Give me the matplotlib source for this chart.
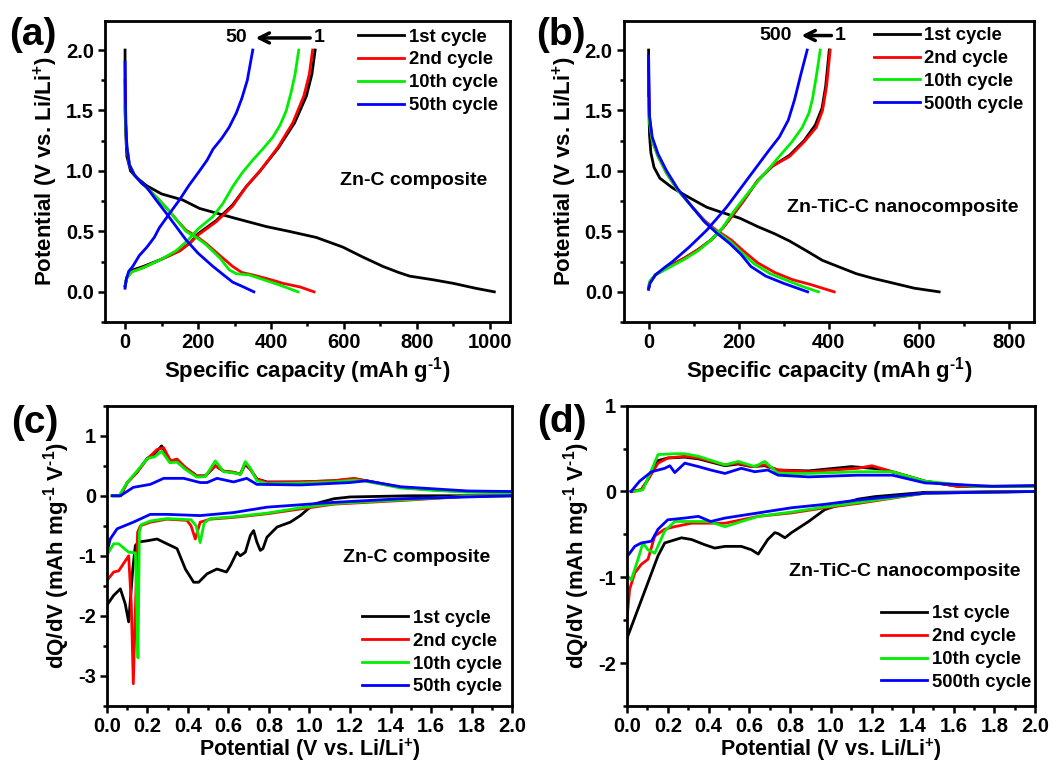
import matplotlib
matplotlib.use('Agg')
import matplotlib.pyplot as plt
from matplotlib.ticker import MultipleLocator

plt.rcParams['font.family'] = ['Liberation Sans', 'DejaVu Sans']
plt.rcParams['font.weight'] = 'bold'
plt.rcParams['mathtext.fontset'] = 'custom'
plt.rcParams['mathtext.rm'] = 'Liberation Sans:bold'
plt.rcParams['mathtext.bf'] = 'Liberation Sans:bold'
plt.rcParams['mathtext.default'] = 'bf'
plt.rcParams['axes.unicode_minus'] = False

labels_a = ['1st cycle', '2nd cycle', '10th cycle', '50th cycle']
labels_b = ['1st cycle', '2nd cycle', '10th cycle', '500th cycle']
colors = ['black', '#ff0000', '#00ee00', '#0000ff']

# (a) Zn-C composite, capacity (mAh/g) vs potential (V)
a1_dis = [(0, 2.0), (0, 1.5), (2, 1.3), (5, 1.12), (15, 1.0), (30, 0.95), (58, 0.88), (100, 0.81),
          (158, 0.76), (204, 0.69), (300, 0.61), (387, 0.54), (450, 0.5), (524, 0.45), (597, 0.37),
          (650, 0.29), (707, 0.21), (750, 0.16), (780, 0.13), (844, 0.10), (900, 0.07), (960, 0.03), (1012, 0.0)]
a1_chg = [(0, 0.05), (5, 0.12), (20, 0.18), (50, 0.21), (100, 0.27), (150, 0.34), (180, 0.41), (200, 0.48),
          (250, 0.59), (295, 0.72), (332, 0.87), (370, 1.0), (420, 1.19), (465, 1.4), (497, 1.62), (512, 1.8), (521, 2.0)]
a2_dis = [(0, 1.75), (2, 1.4), (5, 1.2), (12, 1.05), (25, 0.97), (45, 0.9), (60, 0.86), (90, 0.77), (115, 0.69),
          (140, 0.6), (167, 0.51), (200, 0.45), (222, 0.40), (260, 0.3), (295, 0.21), (320, 0.16), (350, 0.14),
          (400, 0.1), (433, 0.07), (480, 0.04), (518, 0.0)]
a2_chg = [(0, 0.05), (5, 0.12), (20, 0.17), (50, 0.2), (100, 0.27), (150, 0.34), (180, 0.41), (200, 0.47),
          (250, 0.58), (295, 0.71), (332, 0.87), (370, 1.0), (420, 1.2), (460, 1.4), (490, 1.62), (505, 1.8), (514, 2.0)]
a3_dis = [(0, 1.55), (2, 1.35), (5, 1.2), (12, 1.05), (25, 0.97), (45, 0.9), (60, 0.86), (90, 0.77), (115, 0.69),
          (140, 0.6), (167, 0.5), (200, 0.44), (222, 0.39), (260, 0.28), (286, 0.18), (305, 0.15), (340, 0.14),
          (380, 0.1), (420, 0.06), (474, 0.0)]
a3_chg = [(0, 0.04), (3, 0.1), (15, 0.16), (50, 0.2), (100, 0.27), (140, 0.34), (170, 0.42), (200, 0.52),
          (240, 0.62), (268, 0.73), (295, 0.87), (320, 0.98), (350, 1.09), (380, 1.19), (405, 1.28), (425, 1.38),
          (442, 1.5), (455, 1.65), (466, 1.8), (476, 2.0)]
a4_dis = [(0, 1.9), (2, 1.4), (5, 1.2), (12, 1.05), (25, 0.97), (45, 0.9), (58, 0.87), (85, 0.76), (113, 0.65),
          (140, 0.54), (167, 0.43), (200, 0.32), (241, 0.21), (270, 0.14), (295, 0.08), (325, 0.04), (353, 0.0)]
a4_chg = [(0, 0.03), (3, 0.1), (10, 0.17), (21, 0.21), (39, 0.30), (60, 0.37), (80, 0.45), (94, 0.53), (120, 0.64),
          (149, 0.76), (175, 0.88), (204, 1.0), (225, 1.09), (241, 1.18), (265, 1.27), (285, 1.36), (305, 1.48),
          (320, 1.6), (335, 1.75), (350, 2.0)]

# (b) Zn-TiC-C nanocomposite
b1_dis = [(0, 2.0), (0, 1.6), (2, 1.3), (5, 1.15), (12, 1.03), (25, 0.94), (53, 0.86), (90, 0.78), (129, 0.70),
          (160, 0.66), (202, 0.61), (242, 0.54), (280, 0.48), (313, 0.42), (350, 0.34), (386, 0.26), (420, 0.21),
          (461, 0.15), (500, 0.11), (534, 0.08), (590, 0.03), (645, 0.0)]
b1_chg = [(0, 0.03), (3, 0.08), (15, 0.14), (40, 0.2), (80, 0.28), (110, 0.35), (139, 0.43), (165, 0.53),
          (190, 0.65), (210, 0.75), (242, 0.92), (275, 1.04), (313, 1.13), (345, 1.25), (370, 1.38), (385, 1.52),
          (393, 1.7), (397, 1.85), (401, 2.0)]
b2_dis = [(0, 1.8), (2, 1.45), (8, 1.25), (21, 1.12), (40, 0.98), (65, 0.84), (95, 0.71), (124, 0.59), (150, 0.51),
          (183, 0.43), (210, 0.34), (242, 0.24), (280, 0.16), (320, 0.1), (360, 0.06), (412, 0.0)]
b2_chg = [(0, 0.03), (3, 0.08), (15, 0.14), (40, 0.2), (80, 0.28), (110, 0.35), (139, 0.43), (165, 0.53),
          (190, 0.65), (210, 0.75), (242, 0.92), (275, 1.04), (313, 1.12), (345, 1.24), (372, 1.36), (386, 1.5),
          (395, 1.7), (399, 1.85), (403, 2.0)]
b3_dis = [(0, 1.6), (2, 1.4), (8, 1.25), (21, 1.12), (40, 0.98), (65, 0.84), (95, 0.71), (124, 0.58), (150, 0.5),
          (180, 0.42), (205, 0.33), (235, 0.23), (270, 0.15), (310, 0.09), (345, 0.04), (377, 0.0)]
b3_chg = [(0, 0.05), (3, 0.09), (15, 0.14), (40, 0.19), (80, 0.27), (110, 0.34), (139, 0.43), (164, 0.53),
          (190, 0.67), (215, 0.79), (239, 0.90), (265, 1.01), (290, 1.12), (318, 1.24), (341, 1.36), (356, 1.48),
          (364, 1.6), (373, 1.8), (381, 2.0)]
b4_dis = [(0, 1.95), (2, 1.45), (8, 1.28), (21, 1.14), (40, 1.0), (65, 0.85), (95, 0.71), (124, 0.58), (150, 0.49),
          (180, 0.4), (205, 0.31), (227, 0.21), (260, 0.13), (300, 0.07), (353, 0.0)]
b4_chg = [(0, 0.02), (3, 0.07), (15, 0.14), (35, 0.2), (53, 0.25), (90, 0.37), (129, 0.51), (150, 0.6),
          (173, 0.70), (205, 0.86), (239, 1.03), (265, 1.16), (290, 1.28), (310, 1.42), (324, 1.59), (338, 1.8),
          (352, 2.0)]

# (c) dQ/dV of Zn-C composite, potential (V) vs dQ/dV
c1_dis = [(2.0, 0.0), (1.5, 0.0), (1.2, -0.02), (1.12, -0.05), (1.02, -0.14), (0.955, -0.33), (0.905, -0.44),
          (0.84, -0.52), (0.79, -0.69), (0.77, -0.88), (0.757, -0.91), (0.74, -0.77), (0.724, -0.58), (0.708, -0.66),
          (0.683, -0.94), (0.658, -1.0), (0.642, -0.94), (0.61, -1.16), (0.59, -1.27), (0.543, -1.22), (0.494, -1.30),
          (0.453, -1.44), (0.428, -1.44), (0.387, -1.22), (0.346, -0.88), (0.296, -0.80), (0.247, -0.72),
          (0.198, -0.75), (0.156, -0.77), (0.14, -0.83), (0.128, -1.2), (0.107, -2.1), (0.09, -1.8), (0.066, -1.55),
          (0.033, -1.66), (0.0, -1.82)]
c1_chg = [(0.03, 0.0), (0.066, 0.0), (0.1, 0.22), (0.148, 0.39), (0.198, 0.62), (0.235, 0.7), (0.27, 0.83),
          (0.313, 0.58), (0.346, 0.6), (0.387, 0.47), (0.444, 0.33), (0.486, 0.33), (0.535, 0.5), (0.576, 0.41),
          (0.625, 0.39), (0.658, 0.36), (0.683, 0.52), (0.708, 0.44), (0.74, 0.28), (0.79, 0.23), (0.955, 0.23),
          (1.12, 0.25), (1.22, 0.28), (1.28, 0.25), (1.45, 0.14), (1.61, 0.1), (1.78, 0.07), (2.0, 0.06)]
c2_dis = [(2.0, 0.0), (1.78, -0.01), (1.45, -0.08), (1.12, -0.14), (0.955, -0.22), (0.79, -0.30), (0.625, -0.36),
          (0.51, -0.39), (0.46, -0.44), (0.436, -0.72), (0.415, -0.5), (0.395, -0.41), (0.296, -0.39),
          (0.214, -0.44), (0.165, -0.5), (0.151, -0.61), (0.13, -3.13), (0.12, -1.8), (0.107, -1.0), (0.058, -1.25),
          (0.033, -1.27), (0.0, -1.41)]
c2_chg = [(0.033, 0.0), (0.066, 0.0), (0.1, 0.22), (0.148, 0.39), (0.198, 0.61), (0.247, 0.77), (0.28, 0.8),
          (0.313, 0.58), (0.346, 0.61), (0.387, 0.47), (0.444, 0.33), (0.486, 0.33), (0.535, 0.5), (0.576, 0.41),
          (0.625, 0.39), (0.658, 0.36), (0.683, 0.55), (0.708, 0.44), (0.74, 0.28), (0.79, 0.22), (0.955, 0.23),
          (1.12, 0.25), (1.22, 0.29), (1.28, 0.25), (1.45, 0.14), (1.61, 0.1), (1.78, 0.07), (2.0, 0.06)]
c3_dis = [(2.0, 0.0), (1.78, -0.01), (1.45, -0.07), (1.12, -0.13), (0.955, -0.2), (0.79, -0.29), (0.625, -0.35),
          (0.51, -0.38), (0.48, -0.45), (0.46, -0.78), (0.44, -0.5), (0.415, -0.4), (0.296, -0.38), (0.214, -0.42),
          (0.17, -0.48), (0.16, -0.6), (0.153, -2.7), (0.145, -1.5), (0.14, -0.95), (0.107, -0.94), (0.058, -0.80),
          (0.033, -0.80), (0.008, -0.94), (0.0, -1.0)]
c3_chg = [(0.025, 0.0), (0.06, 0.0), (0.1, 0.22), (0.15, 0.42), (0.2, 0.62), (0.235, 0.65), (0.27, 0.74),
          (0.31, 0.55), (0.346, 0.56), (0.387, 0.44), (0.444, 0.31), (0.486, 0.32), (0.535, 0.58), (0.576, 0.40),
          (0.625, 0.38), (0.66, 0.36), (0.683, 0.57), (0.708, 0.46), (0.74, 0.25), (0.79, 0.2), (0.955, 0.21),
          (1.12, 0.23), (1.22, 0.26), (1.28, 0.24), (1.45, 0.13), (1.61, 0.09), (1.78, 0.06), (2.0, 0.05)]
c4_dis = [(2.0, 0.0), (1.45, -0.05), (1.12, -0.11), (0.79, -0.19), (0.625, -0.28), (0.46, -0.33), (0.296, -0.31),
          (0.214, -0.31), (0.13, -0.44), (0.05, -0.55), (0.016, -0.72), (0.0, -0.94)]
c4_chg = [(0.025, 0.0), (0.066, 0.0), (0.13, 0.14), (0.214, 0.19), (0.28, 0.29), (0.379, 0.29), (0.46, 0.22),
          (0.494, 0.22), (0.543, 0.29), (0.625, 0.23), (0.69, 0.29), (0.74, 0.19), (0.955, 0.18), (1.2, 0.22),
          (1.28, 0.25), (1.45, 0.15), (1.78, 0.08), (2.0, 0.07)]

# (d) dQ/dV of Zn-TiC-C nanocomposite
d1_dis = [(2.0, 0.0), (1.46, -0.01), (1.215, -0.06), (1.13, -0.09), (1.05, -0.15), (0.97, -0.21), (0.89, -0.35),
          (0.806, -0.48), (0.774, -0.54), (0.74, -0.49), (0.724, -0.48), (0.69, -0.56), (0.643, -0.73),
          (0.61, -0.68), (0.56, -0.64), (0.48, -0.64), (0.43, -0.66), (0.38, -0.62), (0.316, -0.56), (0.267, -0.54),
          (0.185, -0.60), (0.152, -0.75), (0.103, -1.06), (0.054, -1.37), (0.005, -1.68), (0.0, -1.72)]
d1_chg = [(0.02, 0.0), (0.07, 0.02), (0.103, 0.14), (0.152, 0.36), (0.2, 0.39), (0.283, 0.40), (0.35, 0.38),
          (0.48, 0.3), (0.545, 0.32), (0.61, 0.29), (0.675, 0.3), (0.74, 0.25), (0.89, 0.24), (1.1, 0.29),
          (1.25, 0.26), (1.33, 0.21), (1.46, 0.12), (1.62, 0.06), (2.0, 0.06)]
d2_dis = [(2.0, 0.0), (1.46, -0.02), (1.13, -0.14), (0.97, -0.19), (0.806, -0.25), (0.643, -0.29), (0.48, -0.37),
          (0.316, -0.37), (0.234, -0.41), (0.185, -0.44), (0.136, -0.52), (0.103, -0.79), (0.07, -0.85),
          (0.038, -0.95), (0.013, -1.14), (0.0, -1.49)]
d2_chg = [(0.02, 0.0), (0.07, 0.02), (0.103, 0.14), (0.152, 0.33), (0.2, 0.39), (0.283, 0.41), (0.35, 0.39),
          (0.48, 0.31), (0.545, 0.33), (0.61, 0.29), (0.675, 0.31), (0.74, 0.25), (0.89, 0.23), (1.13, 0.27),
          (1.2, 0.30), (1.33, 0.21), (1.46, 0.12), (1.62, 0.06), (2.0, 0.06)]
d3_dis = [(2.0, 0.0), (1.46, -0.02), (1.13, -0.13), (0.97, -0.18), (0.806, -0.24), (0.643, -0.29), (0.48, -0.41),
          (0.4, -0.35), (0.234, -0.35), (0.185, -0.46), (0.136, -0.72), (0.103, -0.68), (0.078, -0.60),
          (0.054, -0.79), (0.021, -1.03), (0.005, -0.99)]
d3_chg = [(0.038, 0.0), (0.078, 0.02), (0.12, 0.25), (0.152, 0.43), (0.234, 0.44), (0.283, 0.44), (0.35, 0.41),
          (0.48, 0.31), (0.545, 0.35), (0.626, 0.29), (0.675, 0.35), (0.74, 0.21), (0.89, 0.21), (1.13, 0.23),
          (1.3, 0.23), (1.46, 0.12), (1.7, 0.06), (2.0, 0.06)]
d4_dis = [(2.0, 0.0), (1.46, -0.02), (1.13, -0.10), (0.97, -0.15), (0.806, -0.19), (0.643, -0.25), (0.48, -0.31),
          (0.41, -0.35), (0.35, -0.29), (0.283, -0.31), (0.2, -0.33), (0.152, -0.44), (0.12, -0.58), (0.07, -0.60),
          (0.038, -0.64), (0.013, -0.72), (0.0, -0.76)]
d4_chg = [(0.02, 0.0), (0.062, 0.12), (0.12, 0.23), (0.185, 0.27), (0.21, 0.30), (0.234, 0.22), (0.283, 0.33),
          (0.35, 0.29), (0.41, 0.25), (0.48, 0.21), (0.56, 0.27), (0.626, 0.23), (0.69, 0.25), (0.74, 0.19),
          (0.89, 0.17), (1.13, 0.19), (1.3, 0.19), (1.46, 0.10), (1.79, 0.06), (2.0, 0.07)]


def draw(ax, branches, labels):
    for (dis, chg), c, lab in zip(branches, colors, labels):
        x, y = zip(*dis)
        ax.plot(x, y, color=c, lw=2.0, label=lab)
        x, y = zip(*chg)
        ax.plot(x, y, color=c, lw=2.0)


def style(ax):
    for s in ax.spines.values():
        s.set_linewidth(2.0)
    ax.tick_params(which='both', direction='out', width=1.8, labelsize=14.5, top=False, right=False, pad=3)
    ax.tick_params(which='major', length=5)
    ax.tick_params(which='minor', length=3)


fig = plt.figure(figsize=(10.52, 7.65), dpi=100)
ax_a = fig.add_axes([0.0998, 0.579, 0.385, 0.3935])
ax_b = fig.add_axes([0.593, 0.579, 0.3897, 0.3935])
ax_c = fig.add_axes([0.1017, 0.0772, 0.385, 0.3925])
ax_d = fig.add_axes([0.596, 0.0772, 0.388, 0.3925])

draw(ax_a, [(a1_dis, a1_chg), (a2_dis, a2_chg), (a3_dis, a3_chg), (a4_dis, a4_chg)], labels_a)
draw(ax_b, [(b1_dis, b1_chg), (b2_dis, b2_chg), (b3_dis, b3_chg), (b4_dis, b4_chg)], labels_b)
draw(ax_c, [(c1_dis, c1_chg), (c2_dis, c2_chg), (c3_dis, c3_chg), (c4_dis, c4_chg)], labels_a)
draw(ax_d, [(d1_dis, d1_chg), (d2_dis, d2_chg), (d3_dis, d3_chg), (d4_dis, d4_chg)], labels_b)

cap_label = r'Specific capacity (mAh g$^{\text{-}1}$)'
pot_label = r'Potential (V vs. Li/Li$^{+}$)'
dq_label = r'dQ/dV (mAh mg$^{\text{-}1}$ V$^{\text{-}1}$)'

ax_a.set_xlim(-55, 1055)
ax_a.set_ylim(-0.25, 2.24)
ax_a.xaxis.set_major_locator(MultipleLocator(200))
ax_a.xaxis.set_minor_locator(MultipleLocator(100))
ax_b.set_xlim(-55, 855)
ax_b.set_ylim(-0.25, 2.24)
ax_b.xaxis.set_major_locator(MultipleLocator(200))
ax_b.xaxis.set_minor_locator(MultipleLocator(100))
for ax in (ax_a, ax_b):
    ax.yaxis.set_major_locator(MultipleLocator(0.5))
    ax.yaxis.set_minor_locator(MultipleLocator(0.25))
    ax.yaxis.set_major_formatter('{x:.1f}')
    ax.set_xlabel(cap_label, fontsize=16, fontweight='bold', labelpad=2)
    ax.set_ylabel(pot_label, fontsize=16, fontweight='bold', labelpad=4)

ax_c.set_ylim(-3.5, 1.5)
ax_d.set_ylim(-2.5, 1.0)
for ax in (ax_c, ax_d):
    ax.set_xlim(0, 2.0)
    ax.xaxis.set_major_locator(MultipleLocator(0.2))
    ax.xaxis.set_minor_locator(MultipleLocator(0.1))
    ax.xaxis.set_major_formatter('{x:.1f}')
    ax.yaxis.set_major_locator(MultipleLocator(1))
    ax.yaxis.set_minor_locator(MultipleLocator(0.5))
    ax.set_xlabel(pot_label, fontsize=15.5, fontweight='bold', labelpad=0)
    ax.set_ylabel(dq_label, fontsize=16, fontweight='bold', labelpad=4)

for ax in (ax_a, ax_b, ax_c, ax_d):
    style(ax)

leg_kw = dict(frameon=False, fontsize=13.3, handlelength=2.5, handletextpad=0.25, labelspacing=0.32,
              borderpad=0, borderaxespad=0)
ax_a.legend(loc='upper right', bbox_to_anchor=(0.97, 0.975), **leg_kw)
ax_b.legend(loc='upper right', bbox_to_anchor=(0.975, 0.98), **leg_kw)
ax_c.legend(loc='lower right', bbox_to_anchor=(0.975, 0.035), **leg_kw)
ax_d.legend(loc='lower right', bbox_to_anchor=(0.99, 0.05), **leg_kw)

# sample names
ax_a.text(791, 0.92, 'Zn-C composite', fontsize=14, ha='center', va='center')
ax_b.text(563, 0.70, 'Zn-TiC-C nanocomposite', fontsize=14, ha='center', va='center')
ax_c.text(1.53, -1.02, 'Zn-C composite', fontsize=14, ha='center', va='center')
ax_d.text(1.36, -0.93, 'Zn-TiC-C nanocomposite', fontsize=14, ha='center', va='center')

# cycle arrows
arrow = dict(arrowstyle='->', lw=2.5, color='black', mutation_scale=18)
ax_a.annotate('', xy=(350, 2.10), xytext=(515, 2.10), arrowprops=arrow)
ax_a.text(333, 2.10, '50', fontsize=14, ha='right', va='center')
ax_a.text(517, 2.10, '1', fontsize=14, ha='left', va='center')
ax_b.annotate('', xy=(333, 2.12), xytext=(412, 2.12), arrowprops=arrow)
ax_b.text(318, 2.12, '500', fontsize=14, ha='right', va='center')
ax_b.text(414, 2.12, '1', fontsize=14, ha='left', va='center')

# panel letters
fig.text(0.009, 0.954, '(a)', fontsize=28, fontweight='bold', va='center')
fig.text(0.510, 0.954, '(b)', fontsize=28, fontweight='bold', va='center')
fig.text(0.011, 0.447, '(c)', fontsize=28, fontweight='bold', va='center')
fig.text(0.511, 0.448, '(d)', fontsize=28, fontweight='bold', va='center')

plt.savefig('out.png', dpi=100)
